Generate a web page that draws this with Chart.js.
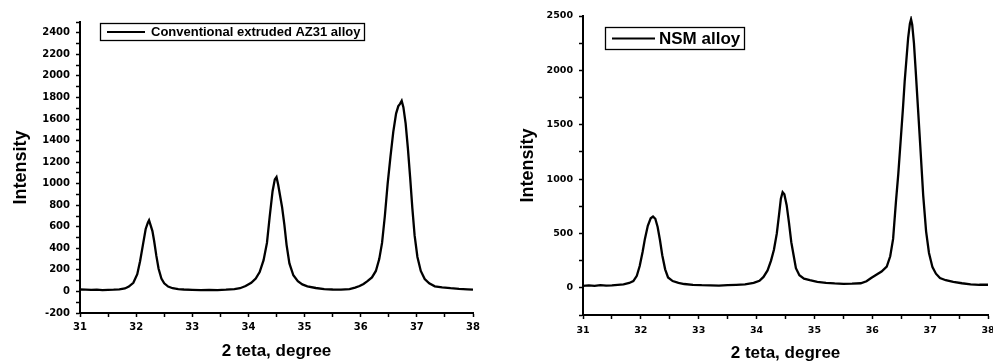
<!DOCTYPE html>
<html><head><meta charset="utf-8">
<script src="https://cdn.jsdelivr.net/npm/chart.js@4/dist/chart.umd.min.js"></script>
<style>
html,body{margin:0;padding:0;background:#fff;}
#wrap{position:relative;width:993px;height:364px;overflow:hidden;background:#fff;}
canvas{position:absolute;top:0;}
#c1{left:0}
#c2{left:496px}
</style></head><body>
<div id="wrap"><canvas id="c1" width="496" height="364"></canvas><canvas id="c2" width="497" height="364"></canvas></div>
<script>
const xTitle = '2 teta, degree';
const yTitle = 'Intensity';
const leftLabel = 'Conventional extruded AZ31 alloy';
const rightLabel = 'NSM alloy';

const leftTheta = [31.0,31.1,31.2,31.3,31.4,31.5,31.6,31.7,31.8,31.87,31.95,32.02,32.07,32.12,32.17,32.21,32.23,32.26,32.29,32.32,32.36,32.4,32.45,32.5,32.57,32.65,32.75,32.85,33.0,33.15,33.3,33.45,33.6,33.75,33.85,33.95,34.05,34.13,34.2,34.27,34.33,34.38,34.43,34.47,34.5,34.53,34.56,34.6,34.64,34.68,34.73,34.8,34.88,34.96,35.05,35.2,35.35,35.5,35.65,35.8,35.9,35.98,36.05,36.12,36.2,36.27,36.33,36.38,36.43,36.48,36.53,36.58,36.63,36.67,36.7,36.73,36.76,36.8,36.84,36.88,36.92,36.96,37.01,37.07,37.14,37.22,37.32,37.45,37.6,37.75,37.9,38.0];
const leftIntensity = [18,16,15,17,13,15,16,20,28,45,80,160,280,430,580,640,660,610,560,470,330,210,120,75,45,30,22,18,15,12,14,13,16,22,30,50,80,120,180,290,450,700,930,1040,1062,990,900,780,620,430,260,150,95,65,48,32,22,18,16,22,35,50,70,95,130,190,300,450,700,1000,1250,1480,1650,1720,1740,1768,1710,1560,1330,1060,770,520,320,190,115,75,48,38,30,24,20,16];

const rightTheta = [31.0,31.1,31.2,31.3,31.4,31.5,31.6,31.7,31.8,31.87,31.93,31.98,32.03,32.07,32.12,32.17,32.21,32.25,32.29,32.33,32.37,32.42,32.47,32.55,32.65,32.75,32.9,33.05,33.2,33.35,33.5,33.65,33.8,33.95,34.05,34.12,34.19,34.25,34.3,34.35,34.39,34.42,34.45,34.48,34.52,34.56,34.6,34.64,34.68,34.74,34.82,34.92,35.05,35.2,35.35,35.5,35.65,35.8,35.9,35.98,36.07,36.16,36.25,36.31,36.36,36.41,36.45,36.49,36.53,36.56,36.59,36.62,36.65,36.67,36.69,36.72,36.75,36.79,36.83,36.88,36.93,36.98,37.04,37.1,37.17,37.27,37.4,37.55,37.7,37.85,38.0];
const rightIntensity = [18,22,18,25,20,22,28,32,45,62,110,200,330,450,570,640,655,635,560,440,300,170,95,62,45,35,28,24,22,20,24,28,32,45,65,100,160,250,350,500,680,820,880,860,760,600,420,300,180,115,85,70,55,45,40,37,38,42,60,90,120,150,196,290,450,800,1050,1350,1650,1900,2100,2300,2430,2470,2420,2250,2000,1650,1300,850,520,320,190,130,90,70,55,42,32,28,28];

const boxLegend = {
  id: 'boxLegend',
  afterDraw(chart, args, o) {
    const ctx = chart.ctx, ca = chart.chartArea;
    const ds = chart.data.datasets[0];
    ctx.save();
    ctx.font = 'bold ' + o.size + 'px "Liberation Sans", Arial, sans-serif';
    const tw = ctx.measureText(ds.label).width;
    const x0 = Math.round(ca.left + o.dx), y0 = Math.round(ca.top + o.dy);
    const w = Math.round(o.lineStart + o.lineLen + o.gap + tw + o.padR);
    const h = o.h;
    ctx.lineWidth = 1.3; ctx.strokeStyle = '#000';
    ctx.strokeRect(x0 + 0.5, y0 + 0.5, w, h);
    ctx.lineWidth = 2;
    ctx.beginPath();
    ctx.moveTo(x0 + o.lineStart, y0 + h / 2 + 0.5);
    ctx.lineTo(x0 + o.lineStart + o.lineLen, y0 + h / 2 + 0.5);
    ctx.stroke();
    ctx.fillStyle = '#000'; ctx.textBaseline = 'middle'; ctx.textAlign = 'left';
    ctx.fillText(ds.label, x0 + o.lineStart + o.lineLen + o.gap, y0 + h / 2 + 1);
    ctx.restore();
  }
};

const titleFamily = '"Liberation Sans", Arial, sans-serif';

function makeChart(id, theta, inten, label, c) {
  const tickFont = {family: '"DejaVu Sans", sans-serif', weight: 'bold', size: c.tickSize};
  return new Chart(document.getElementById(id), {
    type: 'line',
    data: {datasets: [{
      label: label,
      data: theta.map((x, i) => ({x: x, y: inten[i]})),
      borderColor: '#000', borderWidth: 2.3, pointRadius: 0, tension: 0, fill: false
    }]},
    options: {
      responsive: false, animation: false, devicePixelRatio: 1,
      layout: {padding: c.pad},
      plugins: {legend: {display: false}, tooltip: {enabled: false}, boxLegend: c.legend},
      scales: {
        x: {
          type: 'linear', position: 'bottom', min: 31, max: 38,
          ticks: {stepSize: 0.5, autoSkip: false, maxRotation: 0, minRotation: 0, color: '#000', font: tickFont, padding: c.xTickPad,
            callback: v => Number.isInteger(v) ? String(v) : ''},
          grid: {display: true, drawOnChartArea: false, drawTicks: true, tickLength: 4, tickColor: '#000', tickWidth: 1.5},
          border: {display: true, color: '#000', width: 2},
          title: {display: true, text: xTitle, color: '#000', font: {family: titleFamily, weight: 'bold', size: 17}, padding: {top: 0, bottom: c.xTitlePad}},
          afterFit: s => { s.height = c.xH; s.paddingLeft = 0; s.paddingRight = 0; }
        },
        y: {
          type: 'linear', min: c.yMin, max: c.yMax,
          ticks: {stepSize: c.yStep, autoSkip: false, color: '#000', font: tickFont, padding: 6,
            callback: v => (v % c.yMajor === 0) ? String(v) : ''},
          grid: {display: true, drawOnChartArea: false, drawTicks: true, tickLength: 4, tickColor: '#000', tickWidth: 1.5},
          border: {display: true, color: '#000', width: 2},
          title: {display: true, text: yTitle, color: '#000', font: {family: titleFamily, weight: 'bold', size: 18}, padding: {top: c.yTitlePad, bottom: 0}},
          afterFit: s => { s.width = c.yW; s.paddingTop = 0; s.paddingBottom = 0; }
        }
      }
    },
    plugins: [boxLegend]
  });
}

makeChart('c1', leftTheta, leftIntensity, leftLabel, {
  pad: {left: 0, top: 22, right: 23, bottom: 0}, tickSize: 10,
  yMin: -200, yMax: 2500, yStep: 100, yMajor: 200,
  yW: 80, xH: 51, xTickPad: 4, xTitlePad: 2, yTitlePad: 10,
  legend: {dx: 20, dy: 1, h: 17, lineStart: 7, lineLen: 38, gap: 6, padR: 4, size: 13}
});
makeChart('c2', rightTheta, rightIntensity, rightLabel, {
  pad: {left: 0, top: 16, right: 5, bottom: 0}, tickSize: 9.5,
  yMin: -250, yMax: 2500, yStep: 250, yMajor: 500,
  yW: 87, xH: 49, xTickPad: 6, xTitlePad: 0, yTitlePad: 21,
  legend: {dx: 22, dy: 11, h: 22, lineStart: 7, lineLen: 43, gap: 4, padR: 4, size: 17}
});
</script>
</body></html>
